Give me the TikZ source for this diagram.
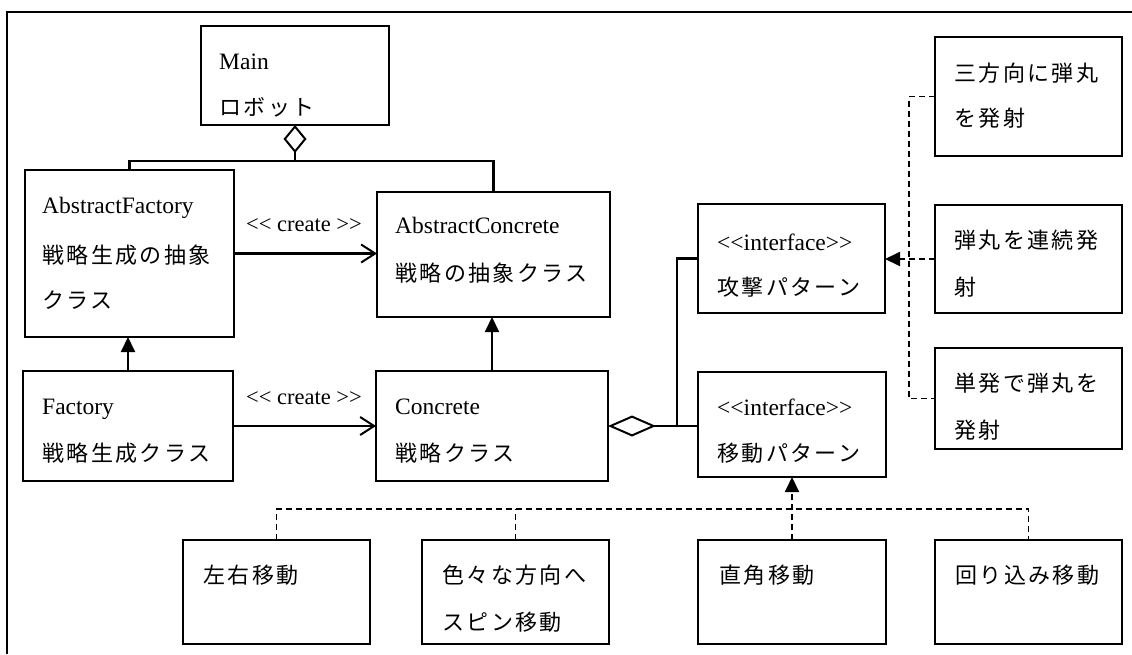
\documentclass[tikz,border=0pt]{standalone}
\usepackage{fontspec}
\setmainfont{Liberation Serif}
\newfontfamily\jpfont{Noto Sans CJK JP}[LetterSpace=11]
\usetikzlibrary{arrows.meta}
\newcommand\lt{<\kern0pt}
\newcommand\gt{>\kern0pt}
\begin{document}
\begin{tikzpicture}[x=1pt,y=-1pt,
  box/.style={draw,line width=2.2pt,inner sep=0pt,outer sep=0pt},
  txt/.style={anchor=base west,inner sep=0pt,font=\fontsize{23.5}{27}\selectfont},
  jtxt/.style={anchor=base west,inner sep=0pt,font=\jpfont\fontsize{22}{26}\selectfont},
  lbl/.style={anchor=base,inner sep=0pt,font=\fontsize{22.5}{26}\selectfont},
  conn/.style={line width=2.1pt},
  dsh/.style={line width=1.9pt,dash pattern=on 6pt off 4pt},
  create/.style={conn,-{Straight Barb[length=14pt,width=18pt,line width=2pt]}},
  inh/.style={conn,-{Triangle[length=15pt,width=14pt]}},
  real/.style={dsh,-{Triangle[length=15pt,width=14pt]}},
]
\useasboundingbox (0,0) rectangle (1132,654);
% frame
\draw[line width=1.8pt] (7,654) -- (7,12) -- (1132,12);

% boxes
\node[box,minimum width=188pt,minimum height=99pt]  (main) at (295,75.5) {};
\node[box,minimum width=209pt,minimum height=167pt] (af)   at (129.5,253.5) {};
\node[box,minimum width=233pt,minimum height=125pt] (ac)   at (493.5,254.5) {};
\node[box,minimum width=210pt,minimum height=110pt] (fac)  at (128,426) {};
\node[box,minimum width=232pt,minimum height=110pt] (con)  at (492,426) {};
\node[box,minimum width=187pt,minimum height=109pt] (atk)  at (791.5,258.5) {};
\node[box,minimum width=188pt,minimum height=105pt] (mov)  at (792,424.5) {};
\node[box,minimum width=187pt,minimum height=119pt] (r1)   at (1028.5,96.5) {};
\node[box,minimum width=187pt,minimum height=108pt] (r2)   at (1028.5,259) {};
\node[box,minimum width=187pt,minimum height=101pt] (r3)   at (1028.5,398.5) {};
\node[box,minimum width=187pt,minimum height=104pt] (b1)   at (276.5,592) {};
\node[box,minimum width=187pt,minimum height=104pt] (b2)   at (515.5,592) {};
\node[box,minimum width=188pt,minimum height=104pt] (b3)   at (792,592) {};
\node[box,minimum width=187pt,minimum height=104pt] (b4)   at (1028.5,592) {};

% texts
\node[txt]  (mainA) at (219,69)  {Main};
\node[jtxt] (mainB) at (219,115) {ロボット};
\node[txt]  (afA) at (42,213) {AbstractFactory};
\node[jtxt] (afB) at (42,263) {戦略生成の抽象};
\node[jtxt] (afC) at (42,308) {クラス};
\node[txt]  (acA) at (395,233) {AbstractConcrete};
\node[jtxt] (acB) at (395,281) {戦略の抽象クラス};
\node[txt]  (facA) at (42,414) {Factory};
\node[jtxt] (facB) at (42,461) {戦略生成クラス};
\node[txt]  (conA) at (395,414) {Concrete};
\node[jtxt] (conB) at (395,461) {戦略クラス};
\node[txt]  (atkA) at (717,250) {\lt\lt interface\gt\gt};
\node[jtxt] (atkB) at (717,295) {攻撃パターン};
\node[txt]  (movA) at (717,415) {\lt\lt interface\gt\gt};
\node[jtxt] (movB) at (717,461) {移動パターン};
\node[jtxt] (r1A) at (954,81)  {三方向に弾丸};
\node[jtxt] (r1B) at (954,126) {を発射};
\node[jtxt] (r2A) at (954,248) {弾丸を連続発};
\node[jtxt] (r2B) at (954,295) {射};
\node[jtxt] (r3A) at (954,391) {単発で弾丸を};
\node[jtxt] (r3B) at (954,438) {発射};
\node[jtxt] (b1A) at (203,583) {左右移動};
\node[jtxt] (b2A) at (442,583) {色々な方向へ};
\node[jtxt] (b2B) at (442,630) {スピン移動};
\node[jtxt] (b3A) at (719,583) {直角移動};
\node[jtxt] (b4A) at (955,583) {回り込み移動};

% Main aggregation
\coordinate (j1) at (295,161);
\draw[conn,{Diamond[open,length=28pt,width=23pt,line width=2pt]}-] (main.south) -- (j1);
\draw[conn] (af.north) |- (j1) -| (ac.north);

% create
\draw[create] (af.east) -- (af.east -| ac.west);
\node[lbl] (c1) at (304,231) {\lt\lt{} create \gt\gt};
\draw[create] (fac.east) -- (fac.east -| con.west);
\node[lbl] (c2) at (304,404) {\lt\lt{} create \gt\gt};

% inheritance
\draw[inh] (fac.north) -- (fac.north |- af.south);
\draw[inh] (con.north) -- (con.north |- ac.south);

% Concrete aggregation
\coordinate (j2) at (677,426);
\draw[conn,{Diamond[open,length=48pt,width=21pt,line width=2pt]}-] (con.east) -- (con.east -| mov.west);
\draw[conn] (j2) |- (atk.west);

% attack realizations
\coordinate (vt) at (909,96.5);
\coordinate (vb) at (909,398.5);
\draw[dsh] (r1.west) -- (vt) -- (vb) -- (r3.west);
\draw[real] (r2.west) -- (r2.west -| atk.east);

% movement realizations
\coordinate (hy) at (600,509);
\draw[dsh] (b1.north) |- (hy) -| (b4.north);
\draw[dsh] (b2.north) -- (b2.north |- hy);
\draw[real] (b3.north) -- (mov.south);
\end{tikzpicture}
\end{document}
